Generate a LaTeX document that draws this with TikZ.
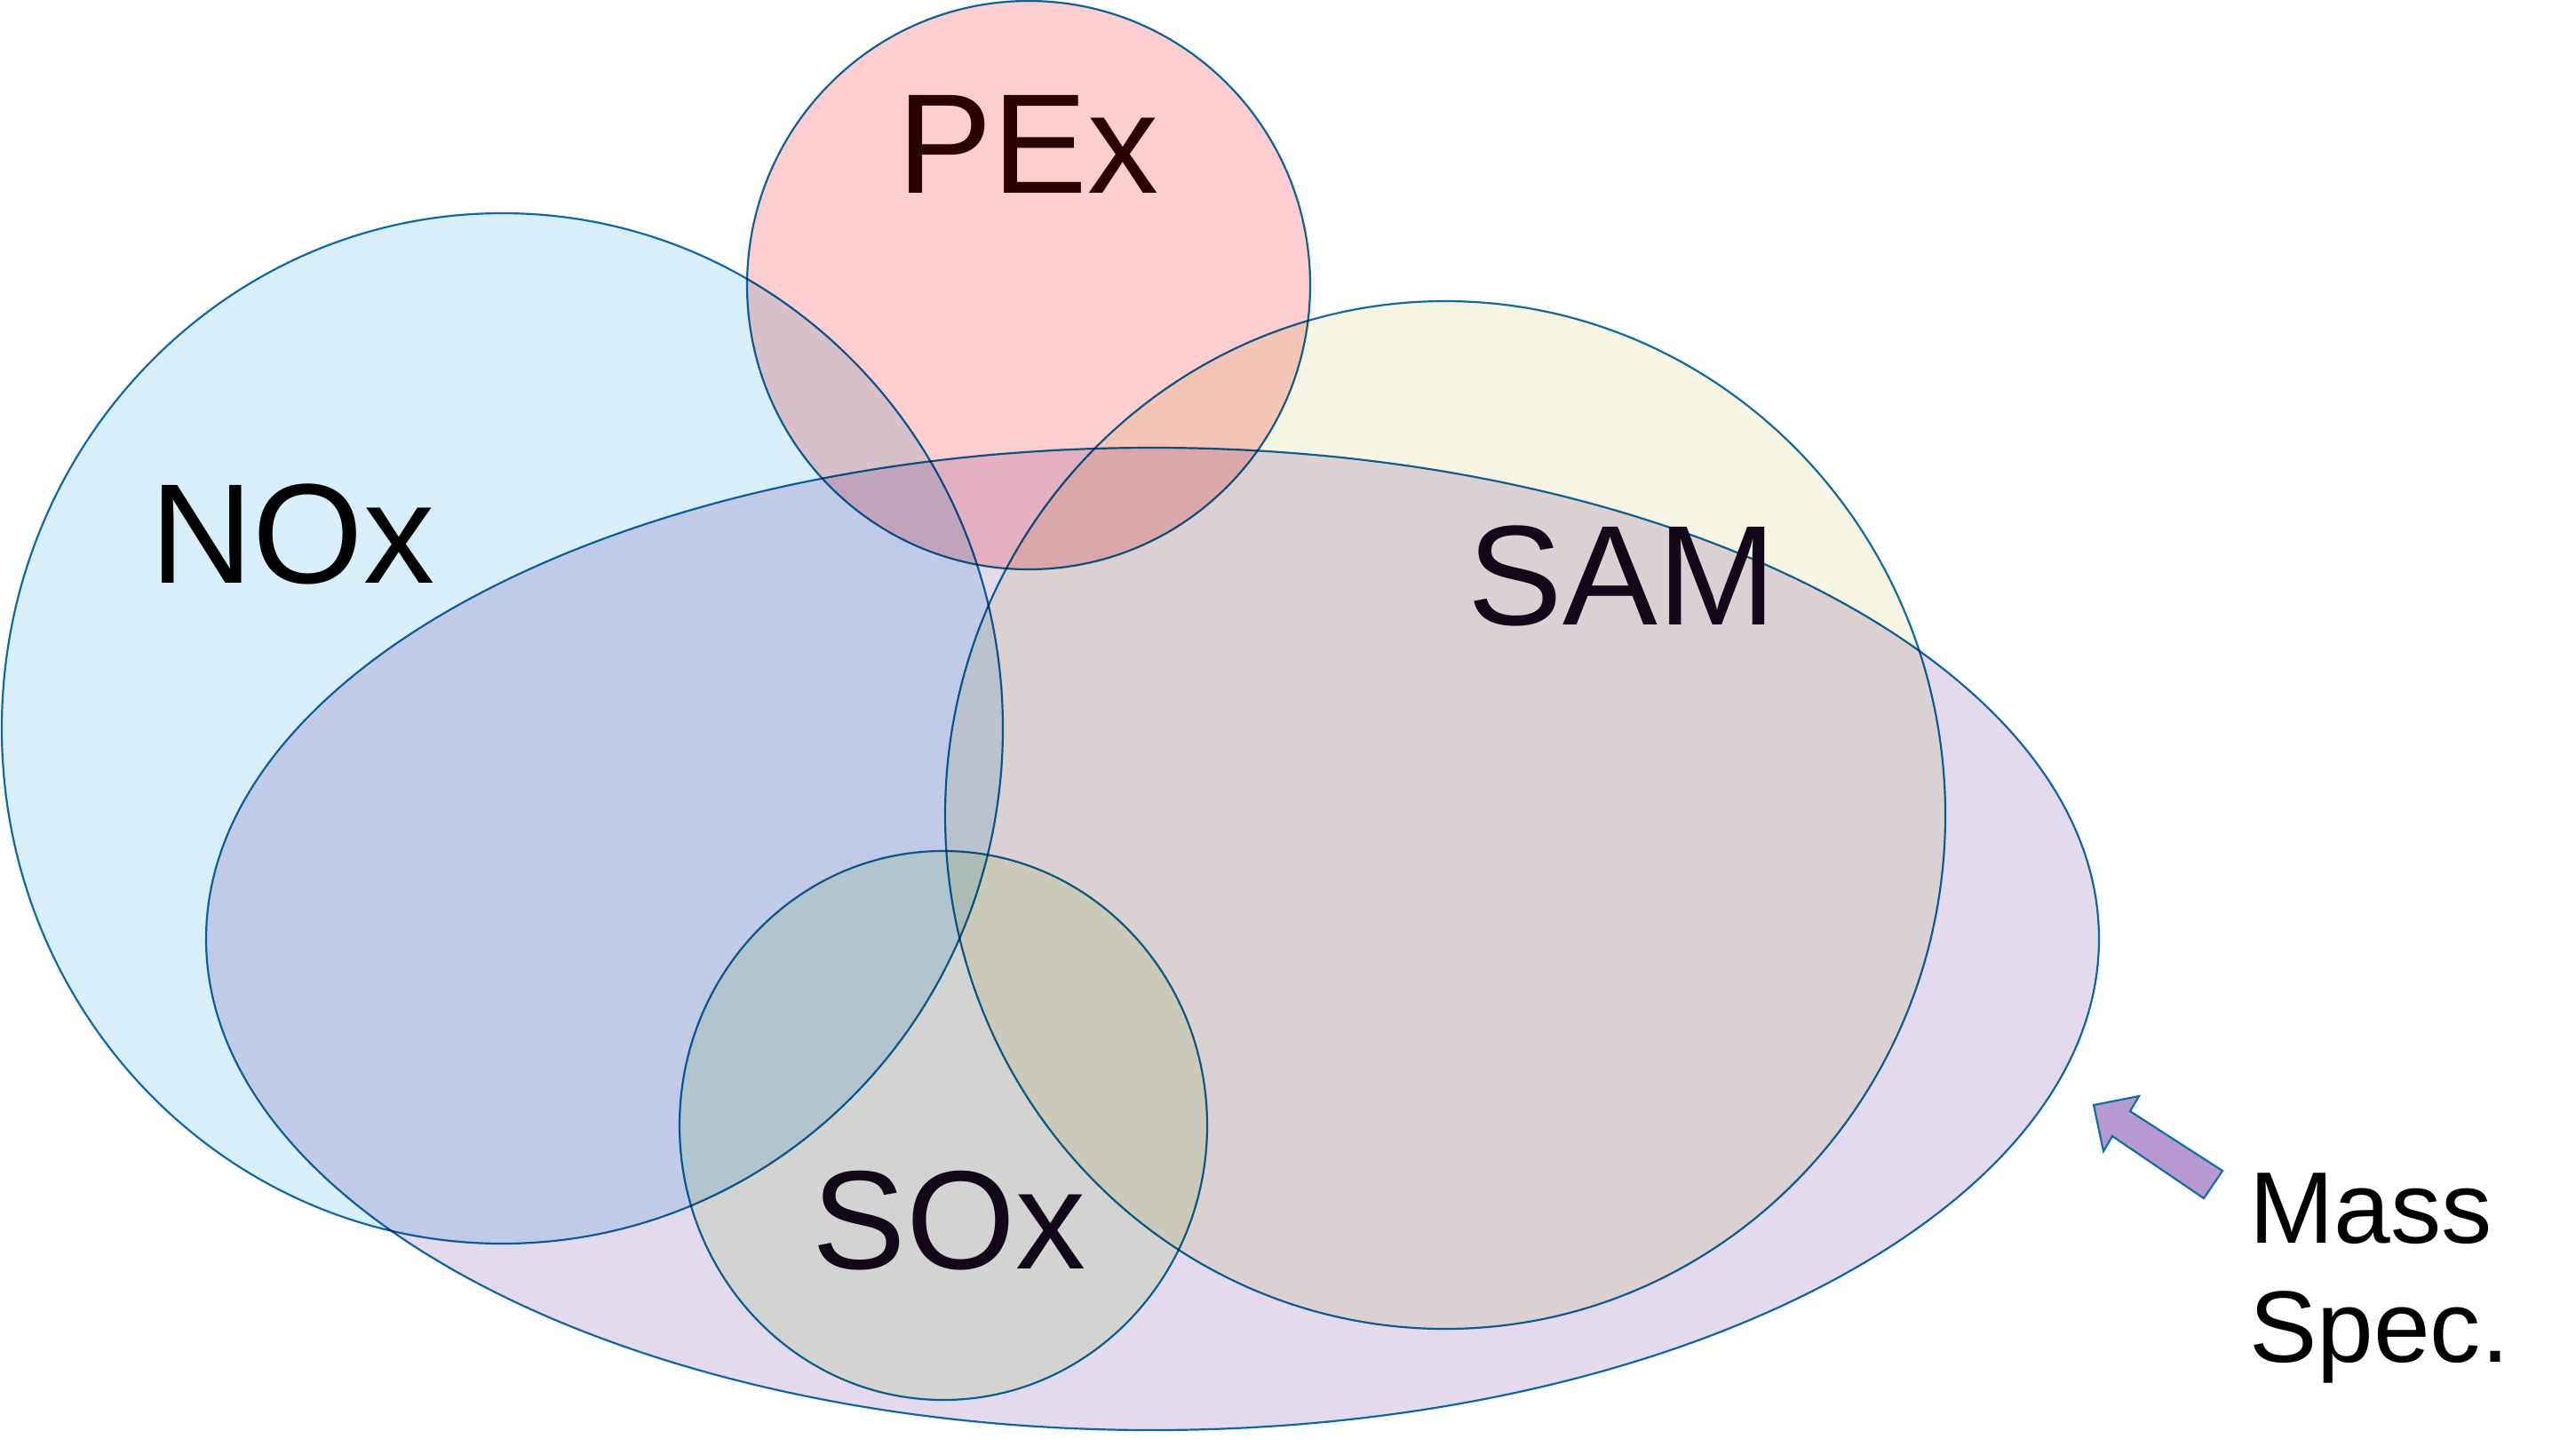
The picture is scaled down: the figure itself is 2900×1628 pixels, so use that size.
\documentclass[tikz,border=0pt]{standalone}
\usepackage{fontspec}
\setmainfont{Liberation Sans}
\definecolor{outl}{RGB}{18,110,166}
\definecolor{noxc}{HTML}{D8EEF9}
\definecolor{pexc}{HTML}{FDCECF}
\definecolor{samc}{HTML}{F6F4E2}
\definecolor{msc}{HTML}{E4DAEE}
\definecolor{soxc}{HTML}{ECF7E2}
\definecolor{arrc}{HTML}{B79BD0}
\definecolor{pext}{HTML}{2B0000}
\definecolor{soxt}{HTML}{12081A}
\begin{document}
\begin{tikzpicture}[x=0.25pt,y=-0.25pt,
  venn/.style={draw=outl, line width=0.55pt},
  lbl/.style={inner sep=0pt, anchor=base west, font=\fontsize{40pt}{46pt}\selectfont}]
\useasboundingbox (0,0) rectangle (2900,1628);
\begin{scope}[blend group=multiply]
  \filldraw[venn, fill=noxc] (565.5,820) ellipse [x radius=563.5, y radius=580];
  \filldraw[venn, fill=samc] (1627,917.5) ellipse [x radius=563, y radius=578.5];
  \filldraw[venn, fill=pexc] (1158,321) ellipse [x radius=317, y radius=320];
  \filldraw[venn, fill=msc] (1297.5,1057) ellipse [x radius=1065.5, y radius=553];
  \filldraw[venn, fill=soxc] (1062,1267) ellipse [x radius=297, y radius=309];
\end{scope}
\filldraw[draw=outl, fill=arrc, line width=0.55pt, line join=miter]
  (2357,1244) -- (2408,1234) -- (2398,1251) -- (2502,1318) -- (2481,1349)
  -- (2378,1279) -- (2368,1296) -- cycle;
\node[lbl] (nox) at (168.5,656) {NOx};
\node[lbl, text=pext] (pex) at (1010,217) {PEx};
\node[lbl, anchor=base, text=soxt] (sam) at (1826,703) {SAM};
\node[lbl, font=\fontsize{39.5pt}{45pt}\selectfont, text=soxt] (sox) at (914,1428) {SOx};
\node[inner sep=0pt, anchor=base west, align=left, font=\fontsize{28.6pt}{33.5pt}\selectfont] (ms) at (2531.5,1533) {Mass\\Spec.};
\end{tikzpicture}
\end{document}
